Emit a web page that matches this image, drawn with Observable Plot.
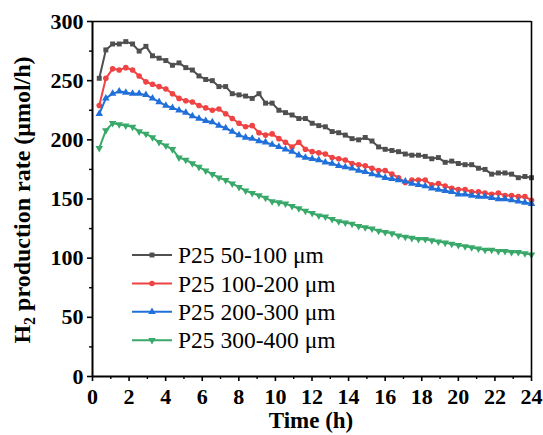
<!DOCTYPE html>
<html>
<head>
<meta charset="utf-8">
<script src="https://cdn.jsdelivr.net/npm/d3@7"></script>
<script src="https://cdn.jsdelivr.net/npm/@observablehq/plot@0.6"></script>
<style>
  html, body { margin: 0; padding: 0; background: #fff; }
  svg { display: block; }
</style>
</head>
<body>
<div id="chart"></div>
<script>
// Sampling times (h), evenly spaced from ~0.37 h to 24 h
const times = d3.range(66).map(i => +(0.37 + i * 0.3636).toFixed(2));

const seriesNames = ["P25 50-100 μm", "P25 100-200 μm", "P25 200-300 μm", "P25 300-400 μm"];
const seriesColors = ["#4f4f4f", "#f04343", "#2170d9", "#39a96a"];
const seriesSymbols = ["square", "circle", "triangle", "triangle"];
const seriesRotate = [0, 0, 0, 180];

const p25_50_100 = [252, 276, 281, 281, 283, 281, 275, 279, 271, 269, 267, 263, 265,
  261, 259, 254, 251, 250, 245, 245, 239, 238, 237, 235, 239, 231, 231, 225, 223, 221, 218,
  218, 214, 212, 211, 207, 206, 204, 201, 200, 202, 199, 194, 192, 191, 190, 188, 187,
  187, 186, 184, 185, 181, 182, 180, 179, 179, 176, 175, 171, 172, 172, 171, 168, 169, 168];
const p25_100_200 = [229, 252, 260, 259, 261, 259, 254, 249, 247, 245, 243, 239, 235,
  233, 232, 229, 227, 225, 226, 222, 218, 214, 211, 212, 206, 204, 205, 201, 198, 194, 198,
  192, 190, 189, 188, 185, 184, 183, 180, 179, 178, 176, 174, 174, 171, 168, 164, 166,
  166, 166, 162, 163, 161, 159, 158, 158, 156, 156, 155, 154, 155, 153, 153, 152, 152, 149];
const p25_200_300 = [222, 235, 239, 241, 240, 239, 239, 238, 235, 232, 229, 227, 225,
  223, 220, 218, 216, 215, 212, 210, 207, 204, 202, 201, 199, 198, 196, 194, 192, 190, 187,
  185, 184, 183, 181, 180, 178, 177, 176, 174, 173, 171, 170, 168, 167, 166, 165, 163,
  162, 161, 159, 158, 157, 156, 154, 154, 153, 152, 152, 151, 150, 150, 149, 148, 147, 146];
const p25_300_400 = [193, 208, 214, 213, 212, 211, 207, 205, 202, 198, 195, 192, 185,
  183, 180, 177, 174, 171, 168, 166, 163, 160, 157, 155, 153, 151, 148, 147, 146, 144, 142,
  140, 138, 136, 135, 133, 131, 130, 129, 127, 126, 125, 123, 122, 121, 119, 118, 117,
  116, 116, 115, 114, 113, 112, 111, 110, 109, 108, 107, 107, 106, 106, 105, 105, 104, 103];

const xMajorTicks = [0, 2, 4, 6, 8, 10, 12, 14, 16, 18, 20, 22, 24];
const xMinorTicks = [1, 3, 5, 7, 9, 11, 13, 15, 17, 19, 21, 23];
const yMajorTicks = [0, 50, 100, 150, 200, 250, 300];
const yMinorTicks = [25, 75, 125, 175, 225, 275];

const allSeries = [p25_50_100, p25_100_200, p25_200_300, p25_300_400];
const rows = allSeries.map(vals => vals.map((v, i) => ({t: times[i], v})));

const FONT = "'Liberation Serif', 'Times New Roman', serif";

const marks = [];
rows.forEach((data, k) => {
  marks.push(Plot.line(data, {x: "t", y: "v", stroke: seriesColors[k], strokeWidth: 2}));
  marks.push(Plot.dot(data, {x: "t", y: "v", fill: seriesColors[k], stroke: "none",
    symbol: seriesSymbols[k], r: 2.8, rotate: seriesRotate[k]}));
});

const chart = Plot.plot({
  width: 543,
  height: 435,
  marginLeft: 92,
  marginRight: 12,
  marginTop: 21,
  marginBottom: 59,
  style: {fontFamily: FONT, background: "#fff", color: "#000"},
  x: {domain: [0, 24]},
  y: {domain: [0, 300]},
  marks: [
    ...marks,
    Plot.axisX({ticks: xMajorTicks, tickSize: 5, tickPadding: 7, tickFormat: d => String(d),
      fontSize: 22, fontWeight: "bold", strokeWidth: 1.6, label: null}),
    Plot.axisX({ticks: xMinorTicks, tickSize: 3, text: null, strokeWidth: 1.4, label: null}),
    Plot.axisY({ticks: yMajorTicks, tickSize: 5, tickPadding: 4, tickFormat: d => String(d),
      fontSize: 22, fontWeight: "bold", strokeWidth: 1.6, label: null}),
    Plot.axisY({ticks: yMinorTicks, tickSize: 3, text: null, strokeWidth: 1.4, label: null}),
    Plot.ruleX([0], {stroke: "#000", strokeWidth: 2}),
    Plot.ruleY([0], {stroke: "#000", strokeWidth: 2}),
    Plot.ruleX([24], {stroke: "#000", strokeWidth: 1.6}),
    Plot.ruleY([300], {stroke: "#000", strokeWidth: 1.6})
  ]
});

const svg = d3.select(chart);

// Axis titles
svg.append("text")
  .attr("x", 311).attr("y", 428)
  .attr("text-anchor", "middle")
  .attr("font-family", FONT).attr("font-size", 23).attr("font-weight", "bold")
  .attr("fill", "#000")
  .text("Time (h)");

const yt = svg.append("text")
  .attr("transform", "translate(30,200) rotate(-90)")
  .attr("text-anchor", "middle")
  .attr("font-family", FONT).attr("font-size", 24).attr("font-weight", "bold")
  .attr("fill", "#000");
yt.append("tspan").text("H");
yt.append("tspan").attr("font-size", 16).attr("dy", 5).text("2");
yt.append("tspan").attr("dy", -5).text(" production rate (μmol/h)");

// Legend
const lg = svg.append("g");
seriesNames.forEach((name, k) => {
  const y = 255 + k * 28.4;
  lg.append("line").attr("x1", 132).attr("x2", 172).attr("y1", y).attr("y2", y)
    .attr("stroke", seriesColors[k]).attr("stroke-width", 2);
  lg.append("path")
    .attr("d", d3.symbol(k === 0 ? d3.symbolSquare : k === 1 ? d3.symbolCircle : d3.symbolTriangle, 24)())
    .attr("transform", `translate(152,${y}) rotate(${seriesRotate[k]})`)
    .attr("fill", seriesColors[k]);
  lg.append("text").attr("x", 178).attr("y", y).attr("dy", "0.35em")
    .attr("text-anchor", "start")
    .attr("font-family", FONT).attr("font-size", 23.5).attr("fill", "#000")
    .text(name);
});

document.getElementById("chart").appendChild(chart);
</script>
</body>
</html>
